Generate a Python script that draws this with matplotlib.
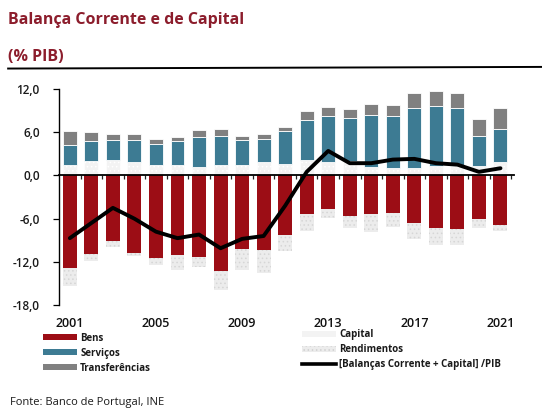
import matplotlib
matplotlib.use("Agg")
import matplotlib.pyplot as plt
import numpy as np
from matplotlib.lines import Line2D
from matplotlib.patches import Patch

plt.rcParams["font.family"] = ["Open Sans", "DejaVu Sans"]
plt.rcParams["hatch.linewidth"] = 0.6

# % do PIB, 2001-2021
anos = list(range(2001, 2022))
bens = [-12.9, -10.9, -9.1, -10.7, -11.4, -11.1, -11.3, -13.2, -10.2, -10.4,
        -8.2, -5.3, -4.7, -5.6, -5.4, -5.2, -6.6, -7.3, -7.5, -6.1, -6.9]
rendimentos = [-2.5, -1.0, -0.8, -0.5, -1.0, -2.0, -1.4, -2.7, -2.9, -3.1,
               -2.3, -2.4, -1.2, -1.7, -2.4, -2.0, -2.2, -2.3, -2.1, -1.2, -0.8]
capital = [1.5, 2.0, 2.2, 1.9, 1.5, 1.4, 1.2, 1.4, 1.5, 1.8,
           1.6, 2.2, 1.8, 2.0, 1.2, 1.0, 1.0, 1.3, 1.3, 1.3, 1.9]
servicos = [2.7, 2.8, 2.7, 3.0, 2.8, 3.4, 4.2, 4.1, 3.4, 3.2,
            4.5, 5.5, 6.5, 5.9, 7.2, 7.3, 8.4, 8.4, 8.0, 4.2, 4.6]
transferencias = [2.0, 1.2, 0.9, 0.9, 0.7, 0.6, 0.9, 1.0, 0.6, 0.7,
                  0.6, 1.2, 1.2, 1.3, 1.5, 1.5, 2.1, 2.0, 2.1, 2.3, 2.8]
saldo = [-8.7, -6.6, -4.5, -6.0, -7.8, -8.7, -8.2, -10.1, -8.8, -8.4,
         -4.2, 0.5, 3.4, 1.7, 1.7, 2.2, 2.3, 1.7, 1.5, 0.5, 1.0]
anos_rotulo = [2001, 2005, 2009, 2013, 2017, 2021]
yticks = [12, 6, 0, -6, -12, -18]

COR_BENS = "#9c0d15"
COR_SERV = "#3d7b93"
COR_TRANSF = "#808080"
COR_CAP = "#f3f3f3"
COR_REND = "#ececec"
COR_TITULO = "#8c1d2c"

fig = plt.figure(figsize=(5.42, 4.08), dpi=100)
ax = fig.add_axes([0.109, 0.252, 0.839, 0.530])

x = np.arange(len(anos))
w = 0.65
cap = np.array(capital)
serv = np.array(servicos)
transf = np.array(transferencias)
b = np.array(bens)

# parte positiva: capital, serviços, transferências
ax.bar(x, cap, w, color=COR_CAP, edgecolor="white", linewidth=0.5, hatch="....")
ax.bar(x, serv, w, bottom=cap, color=COR_SERV, edgecolor="white", linewidth=0.6)
ax.bar(x, transf, w, bottom=cap + serv, color=COR_TRANSF, edgecolor="white", linewidth=0.6)
# parte negativa: bens e rendimentos
ax.bar(x, b, w, color=COR_BENS, linewidth=0)
ax.bar(x, rendimentos, w, bottom=b, color=COR_REND, edgecolor="#d6d6d6",
       linewidth=0, hatch="....")

ax.plot(x, saldo, color="black", linewidth=2.8, solid_joinstyle="round",
        solid_capstyle="round", zorder=5)

ax.set_xlim(-0.5, 20.62)
ax.set_ylim(-18, 12)

for s in ["top", "right"]:
    ax.spines[s].set_visible(False)
ax.spines["bottom"].set_position(("data", 0))
ax.spines["bottom"].set_linewidth(1.3)
ax.spines["bottom"].set_zorder(4)
ax.spines["left"].set_linewidth(1.0)

ax.set_xticks(x + 0.5)
ax.set_xticklabels([])
ax.tick_params(axis="x", length=3, width=0.9, direction="out", color="#222222")
ax.set_yticks(yticks)
ax.set_yticklabels([f"{v:.1f}".replace(".", ",") for v in yticks],
                   fontsize=8.5, fontweight="semibold", color="#1a1a1a")
ax.tick_params(axis="y", length=4, width=0.9, pad=10)

for ano in anos_rotulo:
    ax.text(anos.index(ano), -20.5, str(ano), ha="center", va="center",
            fontsize=9, fontweight="semibold", color="#111111", clip_on=False)

# títulos
fig.text(0.015, 0.951, "Balança Corrente e de Capital", fontsize=11.5,
         fontweight="bold", color=COR_TITULO, va="center")
fig.text(0.015, 0.860, "(% PIB)", fontsize=11.5, fontweight="bold",
         color=COR_TITULO, va="center")
fig.add_artist(Line2D([0.015, 1.0], [0.832, 0.836], transform=fig.transFigure,
                      color="black", linewidth=1.4))

# legendas
esq = [Patch(facecolor=COR_BENS, label="Bens"),
       Patch(facecolor=COR_SERV, label="Serviços"),
       Patch(facecolor=COR_TRANSF, label="Transferências")]
dir_ = [Patch(facecolor=COR_CAP, label="Capital"),
        Patch(facecolor=COR_REND, edgecolor="#d0d0d0", linewidth=0, hatch="....",
              label="Rendimentos"),
        Line2D([], [], color="black", linewidth=2.6,
               label="[Balanças Corrente + Capital] /PIB")]
opts = dict(frameon=False, fontsize=7, handlelength=3.5, handleheight=0.6,
            handletextpad=0.35, labelspacing=0.42, borderpad=0, borderaxespad=0,
            loc="upper left")
leg1 = fig.legend(handles=esq, bbox_to_anchor=(0.079, 0.185), **opts)
leg2 = fig.legend(handles=dir_, bbox_to_anchor=(0.557, 0.193), **opts)
for leg in (leg1, leg2):
    for t in leg.get_texts():
        t.set_fontweight("bold")
        t.set_color("#1a1a1a")

fig.text(0.018, 0.014, "Fonte: Banco de Portugal, INE", fontsize=8,
         color="#1a1a1a", va="center")

fig.savefig("out.png", dpi=100)
plt.close(fig)
